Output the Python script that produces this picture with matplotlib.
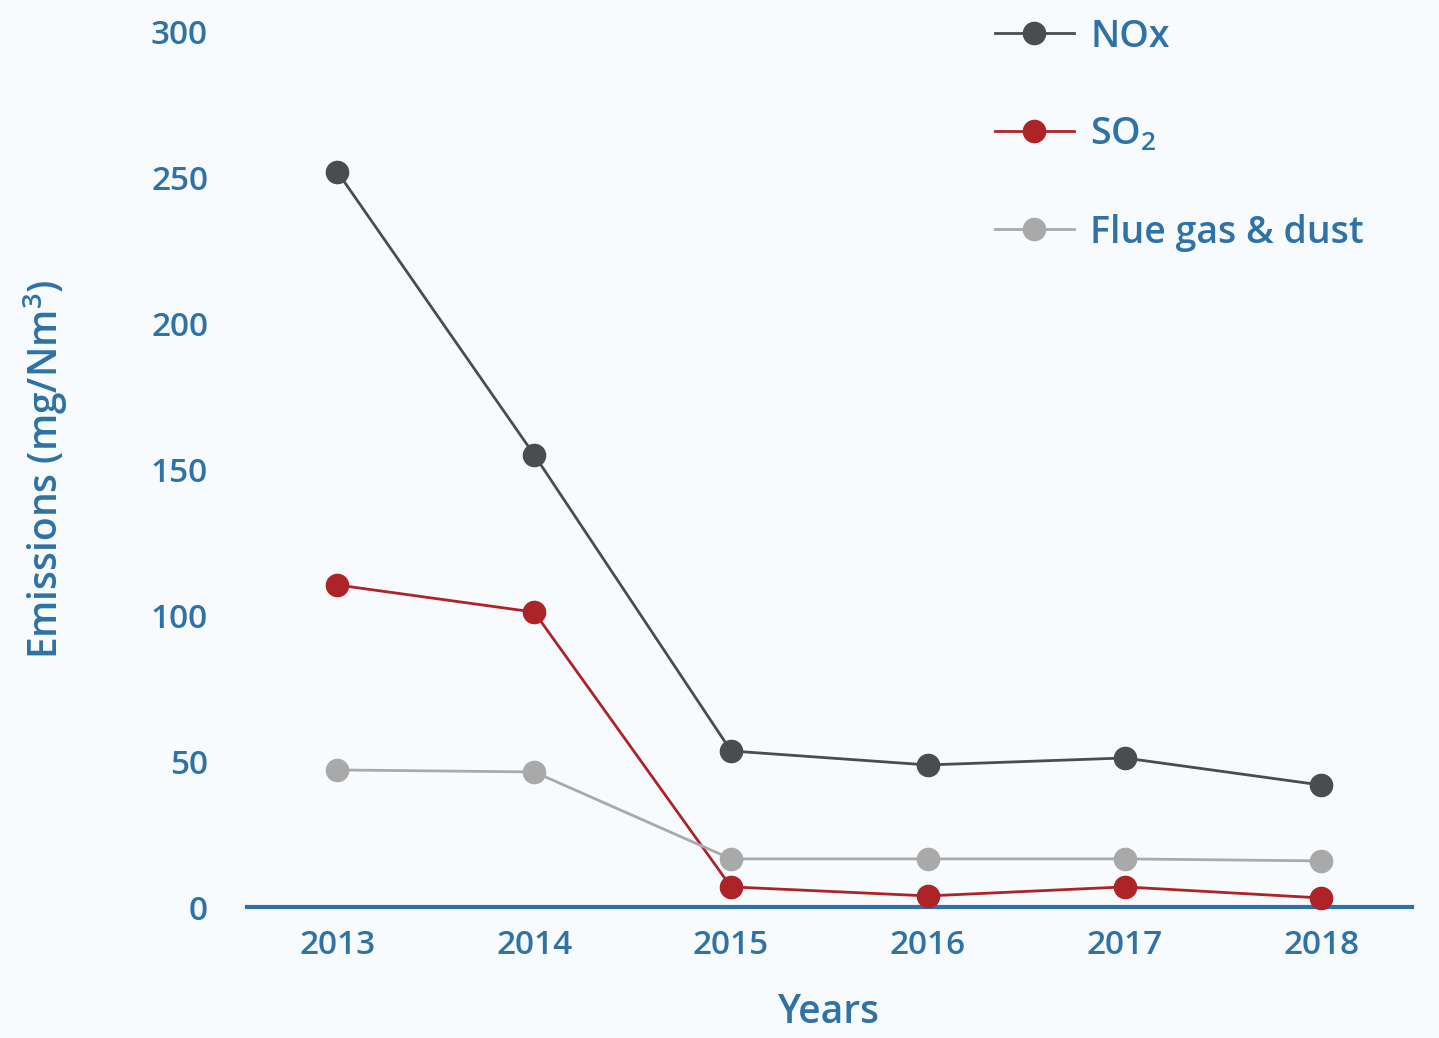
import matplotlib.pyplot as plt

years = [2013, 2014, 2015, 2016, 2017, 2018]
nox = [252, 155, 53.5, 48.7, 51.1, 41.8]
so2 = [110.4, 101.1, 6.9, 3.8, 6.9, 3.1]
dust = [47, 46.3, 16.5, 16.5, 16.5, 15.8]
yticks = [0, 50, 100, 150, 200, 250, 300]

blue = '#2E72A6'
plt.rcParams['font.family'] = ['Open Sans', 'DejaVu Sans']
plt.rcParams['font.weight'] = 600
plt.rcParams['axes.labelweight'] = 600

fig = plt.figure(figsize=(14.39, 10.38), dpi=100, facecolor='#F8FBFD')
ax = fig.add_axes([0.1716, 0.1262, 0.8096, 0.843])
ax.set_facecolor('none')

ax.plot(years, nox, color='#4A4C4F', lw=2, marker='o', ms=16, label='NOx')
ax.plot(years, so2, color='#AE2327', lw=2, marker='o', ms=16,
        label=r'$\mathregular{SO_2}$')
ax.plot(years, dust, color='#A9A9A9', lw=2, marker='o', ms=16,
        label='Flue gas & dust')

ax.set_xlim(2012.54, 2018.46)
ax.set_ylim(0, 300)
ax.set_xticks(years)
ax.set_yticks(yticks)
ax.tick_params(length=0, labelsize=24, colors=blue)
ax.tick_params(axis='y', pad=28)
ax.tick_params(axis='x', pad=16)
for s in ['top', 'right', 'left']:
    ax.spines[s].set_visible(False)
ax.spines['bottom'].set_color(blue)
ax.spines['bottom'].set_linewidth(3)
ax.spines['bottom'].set_zorder(0)
for line in ax.lines:
    line.set_clip_on(False)

ax.set_ylabel(r'Emissions (mg/Nm$\mathregular{^3}$)', fontsize=28, color=blue,
              labelpad=58)
ax.set_xlabel('Years', fontsize=28, color=blue, labelpad=22)

leg = ax.legend(loc='upper left', bbox_to_anchor=(0.613, 1.055), frameon=False,
                fontsize=27, labelspacing=1.6, handlelength=2.1,
                handletextpad=0.45, labelcolor=blue)

fig.savefig('out.png', dpi=100, facecolor=fig.get_facecolor())
